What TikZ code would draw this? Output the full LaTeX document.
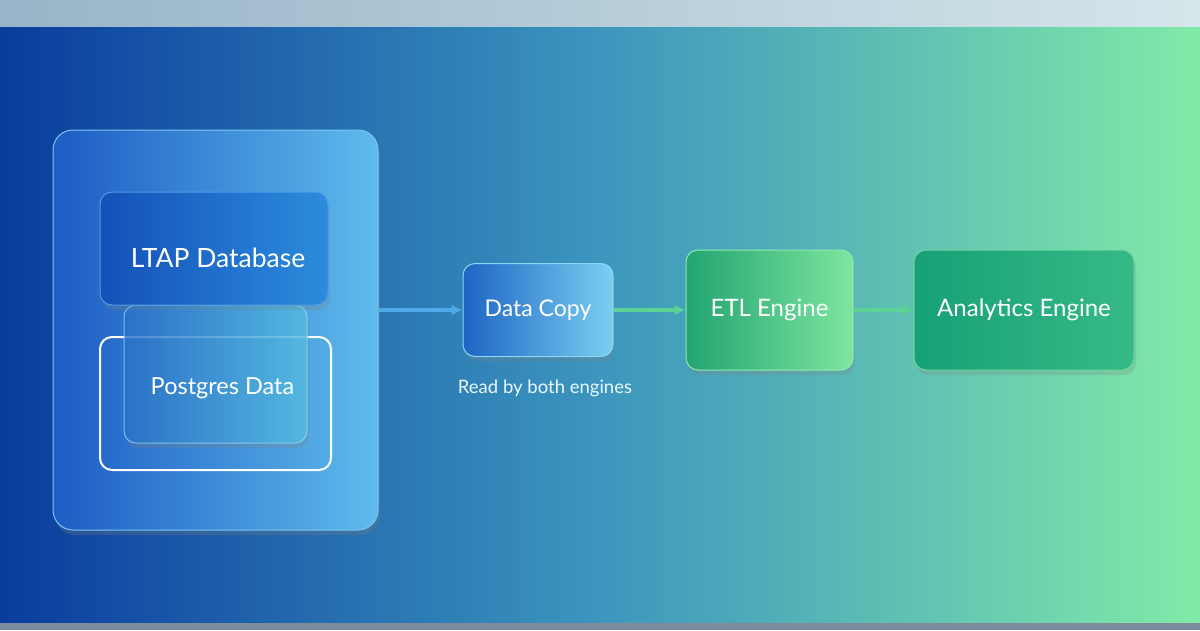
\documentclass[tikz,border=0pt]{standalone}
\usepackage{fontspec}
\setmainfont{Lato}
\usepackage{xcolor}
\usepackage{tikz}
\usetikzlibrary{positioning, arrows.meta, shadows}

\definecolor{bgblue}{HTML}{0A3C9E}
\definecolor{bgmid}{HTML}{3C96BE}
\definecolor{bggreen}{HTML}{82EAA8}
\definecolor{topleft}{HTML}{97B4C8}
\definecolor{topright}{HTML}{D5E6EB}
\definecolor{foot}{HTML}{7C8C9C}
\definecolor{arrowblue}{HTML}{4FA9EA}
\definecolor{arrowgreen}{HTML}{5CD394}
\definecolor{contL}{HTML}{1D5CC4}
\definecolor{contR}{HTML}{5EBBEC}
\definecolor{contE}{HTML}{7CC6F0}
\definecolor{ltapL}{HTML}{1450B8}
\definecolor{ltapR}{HTML}{2C8CDC}
\definecolor{ltapE}{HTML}{4C9EE6}
\definecolor{pgL}{HTML}{2470CC}
\definecolor{pgR}{HTML}{52C2E8}
\definecolor{copyL}{HTML}{1E64C4}
\definecolor{copyR}{HTML}{7AD0F0}
\definecolor{copyE}{HTML}{8AD6F4}
\definecolor{etlL}{HTML}{22A470}
\definecolor{etlR}{HTML}{7EE6A0}
\definecolor{etlE}{HTML}{92EAB2}
\definecolor{anaL}{HTML}{17A077}
\definecolor{anaR}{HTML}{36BA86}
\definecolor{anaE}{HTML}{6ED8A0}

\begin{document}
\begin{tikzpicture}[x=1pt, y=-1pt, >={Latex[length=11pt,width=11pt]},
  every node/.style={text=white},
  panel/.style={draw=#1, line width=1pt, rounded corners=12pt, inner sep=0pt,
    drop shadow={opacity=0.25, shadow xshift=2pt, shadow yshift=-5pt}},
  stage/.style={panel=#1, minimum height=93pt, font=\fontsize{23}{27}\selectfont},
  engine/.style={panel=#1, minimum height=120pt, font=\fontsize{24}{28}\selectfont},
  flow/.style={->, line width=3.5pt}]
  % backdrop bands
  \shade[left color=bgblue, right color=bggreen, middle color=bgmid] (0,26) rectangle (1200,623);
  \shade[left color=topleft, right color=topright] (0,0) rectangle (1200,26);
  \fill[foot] (0,623) rectangle (1200,630);
  \useasboundingbox (0,0) rectangle (1200,630);

  % storage side
  \node[panel=contE, rounded corners=20pt, minimum width=325pt, minimum height=400pt,
        left color=contL, right color=contR]
        (cont) at (215.5,330) {};
  \node[draw=white, line width=2pt, rounded corners=12pt, minimum width=231pt, minimum height=133pt]
        (pgframe) at (215.5,403.5) {};
  \node[panel=pgR!60!white, minimum width=183pt, minimum height=138pt, opacity=0.75, text opacity=1,
        left color=pgL, right color=pgR,
        font=\fontsize{23.5}{27}\selectfont]
        (pgdata) at (215.5,374) {\hspace*{14pt}\raisebox{-20pt}[0pt][0pt]{Postgres Data}};
  \node[panel=ltapE, minimum width=228pt, minimum height=113pt,
        left color=ltapL, right color=ltapR,
        font=\fontsize{26.5}{30}\selectfont]
        (ltap) at (214,248.5) {\hspace*{8pt}\raisebox{-19pt}[0pt][0pt]{LTAP Database}};

  % pipeline
  \node[stage=copyE, minimum width=150pt,
        left color=copyL, right color=copyR]
        (copy) at (538,310) {Data Copy};
  \node[engine=etlE, minimum width=167pt,
        left color=etlL, right color=etlR]
        (etl) [right=72pt of copy] {ETL Engine};
  \node[engine=anaE, minimum width=220pt,
        left color=anaL, right color=anaR]
        (analytics) [right=60pt of etl] {Analytics Engine};
  \node[font=\fontsize{18.5}{22}\selectfont, text=white!92!cyan] (note) at (545,388) {Read by both engines};

  \draw[flow, arrowblue] (copy.west -| cont.east) -- (copy.west);
  \draw[flow, arrowgreen] (copy) -- (etl);
  \draw[flow, arrowgreen] (etl) -- (analytics);
\end{tikzpicture}
\end{document}
